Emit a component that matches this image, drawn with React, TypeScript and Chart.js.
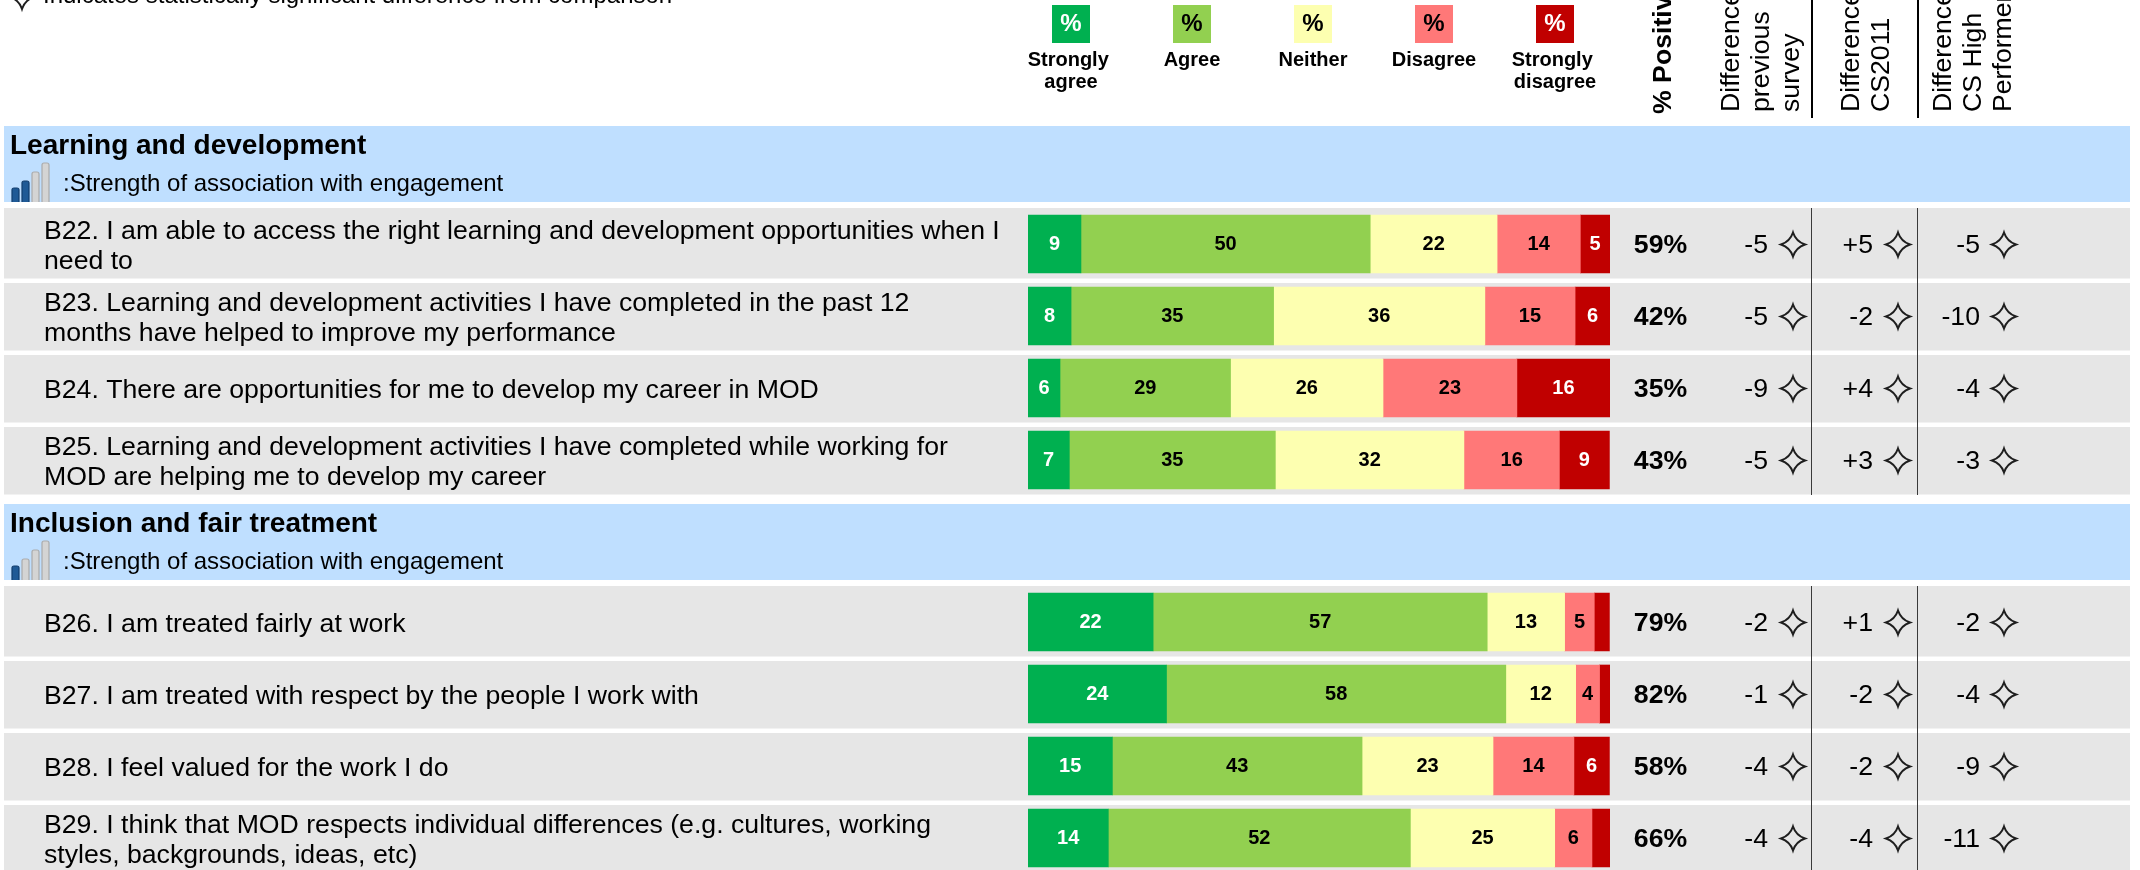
import React, { useEffect, useRef } from "react";
import { Chart, registerables } from "chart.js";

Chart.register(...registerables);

const FONT = '"Liberation Sans", Arial, sans-serif';

const scaleNames = ["Strongly agree", "Agree", "Neither", "Disagree", "Strongly disagree"];
const scaleColors = ["#00B050", "#92D050", "#FDFFB0", "#FF7878", "#C00000"];
const labelColors = ["#FFFFFF", "#000000", "#000000", "#000000", "#FFFFFF"];

const rowPositions = [0, 1, 2, 3, 5.25, 6.25, 7.25, 8.25];
const sectionStartRows = [0, 4];

const questions = [
  ["B22. I am able to access the right learning and development opportunities when I", "need to"],
  ["B23. Learning and development activities I have completed in the past 12", "months have helped to improve my performance"],
  ["B24. There are opportunities for me to develop my career in MOD"],
  ["B25. Learning and development activities I have completed while working for", "MOD are helping me to develop my career"],
  ["B26. I am treated fairly at work"],
  ["B27. I am treated with respect by the people I work with"],
  ["B28. I feel valued for the work I do"],
  ["B29. I think that MOD respects individual differences (e.g. cultures, working", "styles, backgrounds, ideas, etc)"],
];

const stronglyAgree = [9.1, 7.4, 5.5, 7.1, 21.5, 23.8, 14.5, 13.8];
const agree = [49.7, 34.8, 29.3, 35.4, 57.4, 58.3, 42.9, 51.9];
const neither = [21.8, 36.3, 26.2, 32.4, 13.3, 12.0, 22.5, 24.8];
const disagree = [14.3, 15.5, 23.0, 16.4, 5.1, 4.1, 13.9, 6.4];
const stronglyDisagree = [5.1, 6.0, 16.0, 8.6, 2.6, 1.8, 6.1, 3.1];

const stronglyAgreeLabels = ["9", "8", "6", "7", "22", "24", "15", "14"];
const agreeLabels = ["50", "35", "29", "35", "57", "58", "43", "52"];
const neitherLabels = ["22", "36", "26", "32", "13", "12", "23", "25"];
const disagreeLabels = ["14", "15", "23", "16", "5", "4", "14", "6"];
const stronglyDisagreeLabels = ["5", "6", "16", "9", "", "", "6", ""];

const percentPositive = ["59%", "42%", "35%", "43%", "79%", "82%", "58%", "66%"];
const diffPrevious = ["-5", "-5", "-9", "-5", "-2", "-1", "-4", "-4"];
const diffCS2011 = ["+5", "-2", "+4", "+3", "+1", "-2", "-2", "-4"];
const diffHighPerformers = ["-5", "-10", "-4", "-3", "-2", "-4", "-9", "-11"];

const sections = ["Learning and development", "Inclusion and fair treatment"];
const sectionStrength = [2, 1];
const strengthCaption = ":Strength of association with engagement";
const noteText = "Indicates statistically significant difference from comparison";
const rotatedHeaders = [
  ["Difference from", "previous", "survey"],
  ["Difference from", "CS2011"],
  ["Difference from", "CS High", "Performers"],
];

const seriesValues = [stronglyAgree, agree, neither, disagree, stronglyDisagree];
const seriesLabels = [stronglyAgreeLabels, agreeLabels, neitherLabels, disagreeLabels, stronglyDisagreeLabels];

function star(ctx: CanvasRenderingContext2D, cx: number, cy: number, r = 12) {
  const k = 3;
  ctx.save();
  ctx.beginPath();
  ctx.moveTo(cx, cy - r);
  ctx.quadraticCurveTo(cx + k, cy - k, cx + r, cy);
  ctx.quadraticCurveTo(cx + k, cy + k, cx, cy + r);
  ctx.quadraticCurveTo(cx - k, cy + k, cx - r, cy);
  ctx.quadraticCurveTo(cx - k, cy - k, cx, cy - r);
  ctx.closePath();
  ctx.strokeStyle = "#1E1E1E";
  ctx.lineWidth = 2;
  ctx.lineJoin = "miter";
  ctx.stroke();
  ctx.restore();
}

function text(
  ctx: CanvasRenderingContext2D,
  s: string,
  x: number,
  y: number,
  font: string,
  color = "#000000",
  align: CanvasTextAlign = "left",
  baseline: CanvasTextBaseline = "middle"
) {
  ctx.font = font;
  ctx.fillStyle = color;
  ctx.textAlign = align;
  ctx.textBaseline = baseline;
  ctx.fillText(s, x, y);
}

function strengthIcon(ctx: CanvasRenderingContext2D, top: number, filled: number) {
  const bottom = top + 76;
  const bars = [
    { x: 12, h: 14 },
    { x: 22, h: 21 },
    { x: 32, h: 30 },
    { x: 42, h: 39 },
  ];
  ctx.save();
  ctx.beginPath();
  ctx.rect(0, top, 60, 76);
  ctx.clip();
  bars.forEach((b, i) => {
    ctx.beginPath();
    ctx.roundRect(b.x, bottom - b.h, 7, b.h + 4, 2);
    ctx.fillStyle = i < filled ? "#1F5A96" : "#D4D4D4";
    ctx.strokeStyle = i < filled ? "#123E6E" : "#ABABAB";
    ctx.lineWidth = 1.2;
    ctx.fill();
    ctx.stroke();
  });
  ctx.restore();
}

const surveyTable = {
  id: "surveyTable",
  beforeDatasetsDraw(chart: any) {
    const { ctx } = chart;
    const yScale = chart.scales.y;
    ctx.save();
    ctx.fillStyle = "#E6E6E6";
    rowPositions.forEach((p, i) => {
      const c = yScale.getPixelForValue(p);
      const up = sectionStartRows.includes(i) ? 36 : 33;
      ctx.fillRect(4, c - up, 2126, up + 34.5);
    });
    ctx.fillStyle = "#BFDFFF";
    sectionStartRows.forEach((r) => {
      const c = yScale.getPixelForValue(rowPositions[r]);
      ctx.fillRect(4, c - 118, 2126, 76);
    });
    ctx.restore();
  },
  afterDatasetsDraw(chart: any) {
    const { ctx } = chart;
    const yScale = chart.scales.y;
    ctx.save();

    // Data labels on the bar segments
    seriesLabels.forEach((labels, d) => {
      const meta = chart.getDatasetMeta(d);
      meta.data.forEach((bar: any, i: number) => {
        if (!labels[i]) return;
        const c = bar.getCenterPoint();
        text(ctx, labels[i], c.x, c.y + 0.5, `bold 20px ${FONT}`, labelColors[d], "center");
      });
    });

    // Section bands
    sections.forEach((name, i) => {
      const c = yScale.getPixelForValue(rowPositions[sectionStartRows[i]]);
      const top = c - 118;
      text(ctx, name, 10, top + 20, `bold 28px ${FONT}`);
      strengthIcon(ctx, top, sectionStrength[i]);
      text(ctx, strengthCaption, 63, top + 58, `24px ${FONT}`);
    });

    // Row text and difference columns
    rowPositions.forEach((p, i) => {
      const c = yScale.getPixelForValue(p);
      const lines = questions[i];
      lines.forEach((line, l) => {
        const y = c + 2.5 + (l - (lines.length - 1) / 2) * 30;
        text(ctx, line, 44, y, `26.67px ${FONT}`);
      });
      text(ctx, percentPositive[i], 1660.5, c + 2, `bold 26.67px ${FONT}`, "#000000", "center");
      text(ctx, diffPrevious[i], 1768, c + 2, `26.67px ${FONT}`, "#000000", "right");
      text(ctx, diffCS2011[i], 1873, c + 2, `26.67px ${FONT}`, "#000000", "right");
      text(ctx, diffHighPerformers[i], 1980, c + 2, `26.67px ${FONT}`, "#000000", "right");
      star(ctx, 1793, c + 0.5);
      star(ctx, 1898, c + 0.5);
      star(ctx, 2004, c + 0.5);
    });

    // Vertical column rules
    [1811, 1917].forEach((x) => {
      const s1 = yScale.getPixelForValue(rowPositions[0]) - 36;
      const e1 = yScale.getPixelForValue(rowPositions[3]) + 35;
      const s2 = yScale.getPixelForValue(rowPositions[4]) - 36;
      const e2 = yScale.getPixelForValue(rowPositions[7]) + 36;
      ctx.fillStyle = "#3A3A3A";
      ctx.fillRect(x, s1, 1, e1 - s1);
      ctx.fillRect(x, s2, 1, e2 - s2);
      ctx.fillStyle = "#000000";
      ctx.fillRect(x, 0, 2, 118);
    });

    // Legend
    const legendX = [1052, 1173, 1294, 1415, 1536];
    scaleNames.forEach((name, i) => {
      ctx.fillStyle = scaleColors[i];
      ctx.fillRect(legendX[i], 5, 38, 38);
      const cx = legendX[i] + 19;
      text(ctx, "%", cx, 24.5, `bold 24px ${FONT}`, labelColors[i], "center");
      const parts = name.split(" ");
      if (parts.length === 2) {
        text(ctx, parts[0] + " ", cx, 60, `bold 20px ${FONT}`, "#000000", "center");
        text(ctx, parts[1], cx, 82, `bold 20px ${FONT}`, "#000000", "center");
      } else {
        text(ctx, name, cx, 60, `bold 20px ${FONT}`, "#000000", "center");
      }
    });

    // Significance note
    star(ctx, 22, -3);
    text(ctx, noteText, 43, 2.5, `24px ${FONT}`, "#000000", "left", "alphabetic");

    // Rotated headers
    const vertical = (s: string, x: number, y: number, font: string) => {
      ctx.save();
      ctx.translate(x, y);
      ctx.rotate(-Math.PI / 2);
      text(ctx, s, 0, 0, font, "#000000", "left", "alphabetic");
      ctx.restore();
    };
    vertical("% Positive", 1671, 114, `bold 26.67px ${FONT}`);
    const headerX = [1739, 1859, 1951];
    rotatedHeaders.forEach((lines, i) => {
      lines.forEach((line, l) => {
        vertical(line, headerX[i] + l * 30, 112, `26.67px ${FONT}`);
      });
    });
    ctx.restore();
  },
};

export default function App() {
  const ref = useRef<HTMLCanvasElement | null>(null);

  useEffect(() => {
    document.body.style.margin = "0";
    const canvas = ref.current!;
    const chart = new Chart(canvas, {
      type: "bar",
      data: {
        datasets: seriesValues.map((values, d) => ({
          label: scaleNames[d],
          data: values.map((v, i) => ({ x: v, y: rowPositions[i] })),
          backgroundColor: scaleColors[d],
          borderWidth: 0,
          barThickness: 58,
        })),
      },
      options: {
        indexAxis: "y",
        animation: false,
        responsive: false,
        maintainAspectRatio: false,
        layout: { padding: { left: 1028, right: 530, top: 0, bottom: 0 } },
        plugins: { legend: { display: false }, tooltip: { enabled: false }, title: { display: false } },
        scales: {
          x: { type: "linear", stacked: true, min: 0, max: 100, display: false, offset: false },
          y: {
            type: "linear",
            stacked: true,
            reverse: true,
            min: -244 / 72,
            max: (870 - 244) / 72,
            display: false,
            offset: false,
            grid: { offset: false },
          },
        },
      } as any,
      plugins: [surveyTable as any],
    });
    return () => chart.destroy();
  }, []);

  return (
    <div style={{ position: "absolute", left: 0, top: 0, width: 2140, height: 870, background: "#FFFFFF" }}>
      <canvas ref={ref} width={2140} height={870} style={{ display: "block", width: 2140, height: 870 }} />
    </div>
  );
}
